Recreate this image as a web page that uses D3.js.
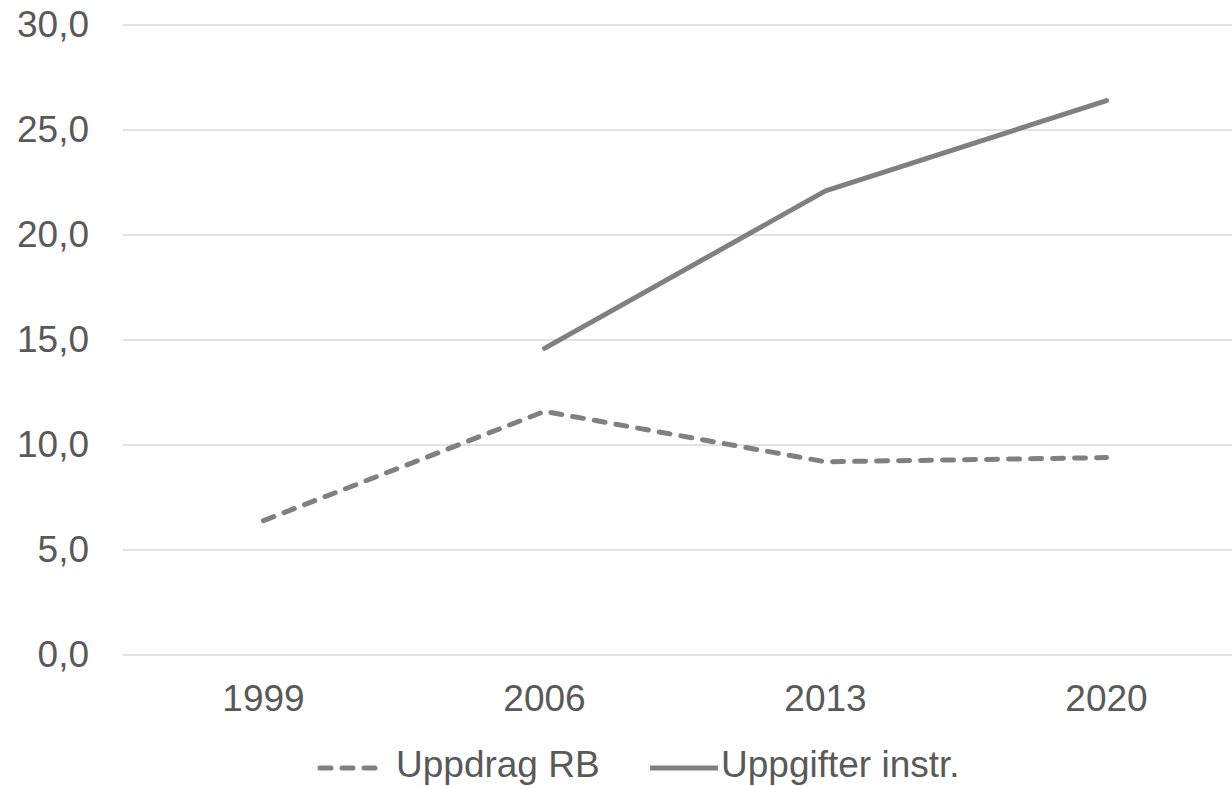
<!DOCTYPE html>
<html><head><meta charset="utf-8">
<script src="https://cdn.jsdelivr.net/npm/d3@7"></script>
<style>body{margin:0;background:#fff;} svg{display:block;font-family:"Liberation Sans",Arial,sans-serif;}</style>
</head><body>
<svg id="c" width="1232" height="786"></svg>
<script>
const categories = ["1999","2006","2013","2020"];
const seriesNames = ["Uppdrag RB","Uppgifter instr."];
const uppdragRB = [6.4, 11.6, 9.2, 9.4];
const uppgifterInstr = [null, 14.6, 22.1, 26.4];
const yTicks = [0,5,10,15,20,25,30];

const svg = d3.select("#c");
const textColor = "#595959", lineColor = "#808080", gridColor = "#d9d9d9";
const FS = 37;
const x = d3.scaleBand().domain(categories).range([123, 1247]);
const y = d3.scaleLinear().domain([0,30]).range([655, 25]);
const fmt = v => d3.format(".1f")(v).replace(".", ",");

// gridlines
svg.append("g").selectAll("line").data(yTicks).join("line")
  .attr("x1", 123).attr("x2", 1232)
  .attr("y1", d => y(d)).attr("y2", d => y(d))
  .attr("stroke", gridColor).attr("stroke-width", 1.5);

// y axis labels
const yAxis = d3.axisLeft(y).tickValues(yTicks).tickFormat(fmt).tickSize(0).tickPadding(0);
const gy = svg.append("g").attr("transform","translate(89,0)").call(yAxis);
gy.select(".domain").remove();
gy.selectAll("text").attr("fill", textColor).attr("font-size", FS).attr("font-family","Liberation Sans, Arial, sans-serif");

// x axis labels
const xAxis = d3.axisBottom(x).tickSize(0).tickPadding(0);
const gx = svg.append("g").attr("transform","translate(0,685)").call(xAxis);
gx.select(".domain").remove();
gx.selectAll("text").attr("fill", textColor).attr("font-size", FS).attr("font-family","Liberation Sans, Arial, sans-serif").attr("dy","0.71em");

const cx = c => x(c) + x.bandwidth()/2;
const line = d3.line().defined(d => d.v != null).x(d => cx(d.c)).y(d => y(d.v));

const series = [
  {name: seriesNames[0], values: uppdragRB, dash: "11,11"},
  {name: seriesNames[1], values: uppgifterInstr, dash: null}
];
series.forEach(s => {
  svg.append("path")
    .datum(categories.map((c,i) => ({c, v: s.values[i]})))
    .attr("d", line).attr("fill","none")
    .attr("stroke", lineColor).attr("stroke-width", 5)
    .attr("stroke-linecap","round").attr("stroke-linejoin","round")
    .attr("stroke-dasharray", s.dash);
});

// legend
const legendY = 768;
const leg = [
  {x1: 320, x2: 382, tx: 396, s: series[0]},
  {x1: 650, x2: 718, tx: 721, s: series[1]}
];
leg.forEach(l => {
  svg.append("line").attr("x1", l.x1).attr("x2", l.x2).attr("y1", legendY).attr("y2", legendY)
    .attr("stroke", lineColor).attr("stroke-width", 5)
    .attr("stroke-linecap", l.s.dash ? "round" : "butt")
    .attr("stroke-dasharray", l.s.dash);
  svg.append("text").attr("x", l.tx).attr("y", 777)
    .attr("fill", textColor).attr("font-size", FS).text(l.s.name);
});
</script>
</body></html>
